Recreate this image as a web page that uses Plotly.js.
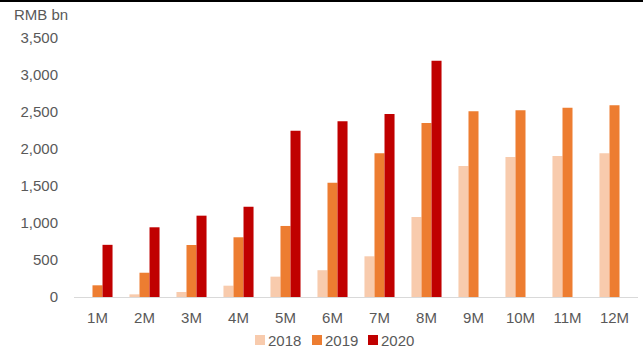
<!DOCTYPE html>
<html>
<head>
<meta charset="utf-8">
<script src="https://cdn.plot.ly/plotly-3.0.1.min.js"></script>
<style>
  html, body { margin: 0; padding: 0; background: #fff; }
  #wrap { position: relative; width: 643px; height: 351px; }
  #chart { width: 643px; height: 351px; }
  #topbar { position: absolute; left: 0; top: 0; width: 643px; height: 2px; background: #000; z-index: 10; }
</style>
</head>
<body>
<div id="wrap">
  <div id="chart"></div>
  <div id="topbar"></div>
</div>
<script>
const categories = ['1M','2M','3M','4M','5M','6M','7M','8M','9M','10M','11M','12M'];
const values2018 = [0, 36, 68, 153, 275, 362, 550, 1081, 1770, 1892, 1905, 1942];
const values2019 = [158, 328, 703, 807, 960, 1545, 1942, 2351, 2509, 2523, 2559, 2590];
const values2020 = [705, 942, 1099, 1220, 2245, 2374, 2473, 3193, null, null, null, null];
const seriesNames = ['2018', '2019', '2020'];
const yTicks = [0, 500, 1000, 1500, 2000, 2500, 3000, 3500];
const yTickLabels = ['0', '500', '1,000', '1,500', '2,000', '2,500', '3,000', '3,500'];
const unitLabel = 'RMB bn';

const colors = ['#F8CBAD', '#ED7D31', '#C00000'];
const seriesValues = [values2018, values2019, values2020];

const W = 643, H = 351;
const M = { l: 74, r: 5, t: 38, b: 54 };
const PW = W - M.l - M.r, PH = H - M.t - M.b;
const px2x = px => (px - M.l) / PW;
const py2y = py => (H - M.b - py) / PH;

const traces = seriesValues.map((vals, i) => ({
  type: 'bar',
  name: seriesNames[i],
  x: categories,
  y: vals,
  marker: { color: colors[i], line: { width: 0 } },
  hoverinfo: 'x+y+name'
}));

const font = { family: '"Liberation Sans", Arial, sans-serif', size: 15, color: '#595959' };

// custom legend (swatch + label) laid out like the reference
const legendSwatchX = [255, 312, 368];
const legendY = 340;
const shapes = seriesNames.map((n, i) => ({
  type: 'rect', xref: 'paper', yref: 'paper',
  x0: px2x(legendSwatchX[i]), x1: px2x(legendSwatchX[i] + 10),
  y0: py2y(legendY + 5), y1: py2y(legendY - 5),
  fillcolor: colors[i], line: { width: 0 }
}));
const annotations = seriesNames.map((n, i) => ({
  text: n, xref: 'paper', yref: 'paper',
  x: px2x(legendSwatchX[i] + 11), y: py2y(legendY),
  xanchor: 'left', yanchor: 'middle', showarrow: false,
  font: font
}));
annotations.push({
  text: unitLabel,
  xref: 'paper', yref: 'paper',
  x: px2x(12), y: py2y(15),
  xanchor: 'left', yanchor: 'middle',
  showarrow: false,
  font: font
});

const layout = {
  width: W,
  height: H,
  margin: M,
  paper_bgcolor: '#ffffff',
  plot_bgcolor: '#ffffff',
  font: font,
  barmode: 'group',
  bargap: 0.36,
  bargroupgap: 0,
  showlegend: false,
  xaxis: {
    type: 'category',
    showgrid: false,
    showline: true,
    linecolor: '#D9D9D9',
    linewidth: 1,
    ticks: '',
    tickfont: font,
    ticklabelstandoff: 7,
    zeroline: false,
    fixedrange: true,
    automargin: false
  },
  yaxis: {
    range: [0, 3500],
    tickvals: yTicks,
    ticktext: yTickLabels,
    showgrid: false,
    showline: false,
    zeroline: false,
    ticks: '',
    ticklabelstandoff: 15,
    tickfont: font,
    fixedrange: true,
    automargin: false
  },
  shapes: shapes,
  annotations: annotations
};

Plotly.newPlot('chart', traces, layout, { displayModeBar: false, staticPlot: true });
</script>
</body>
</html>
